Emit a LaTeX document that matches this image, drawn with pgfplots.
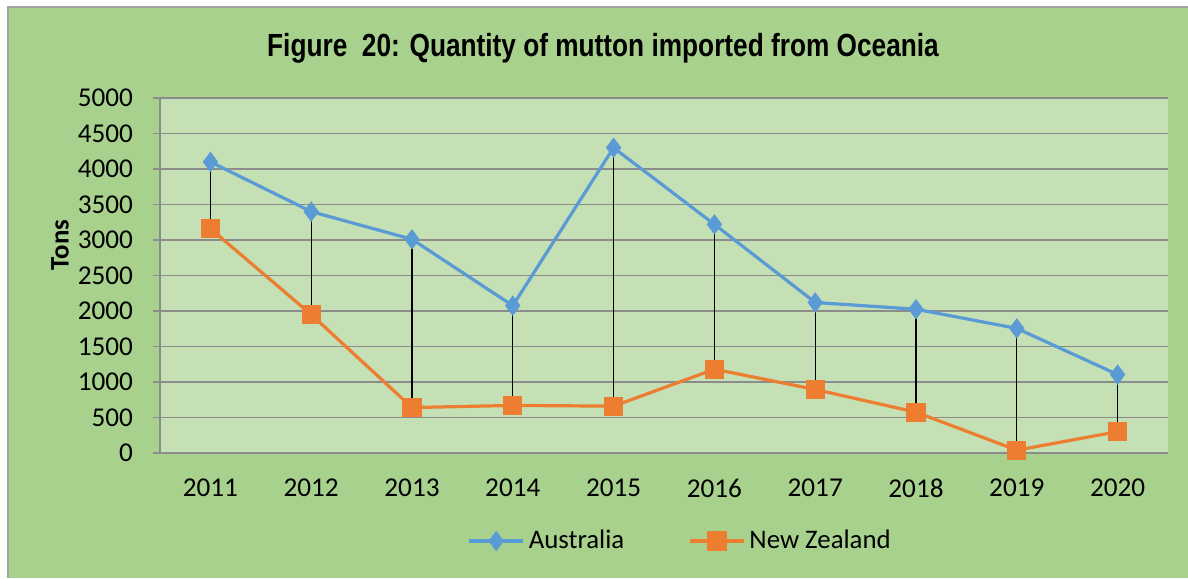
\documentclass[border=0pt]{standalone}
\usepackage{pgfplots}
\usepackage{pgfplotstable}
\pgfplotsset{compat=1.18}
\usepackage{fontspec}
\setmainfont{Carlito}
\newfontfamily\titlefont[FakeStretch=0.82]{Liberation Sans}
\definecolor{outergreen}{HTML}{A9D18E}
\definecolor{innergreen}{HTML}{C5E0B4}
\definecolor{ausblue}{HTML}{5B9BD5}
\definecolor{nzorange}{HTML}{ED7D31}
\definecolor{gridgray}{HTML}{8C8C8C}
\pgfplotstableread{
x aus nz
0 4100 3160
1 3400 1950
2 3010 640
3 2075 670
4 4300 660
5 3220 1180
6 2120 895
7 2025 575
8 1755 40
9 1105 300
}\datatable
\begin{document}
\begin{tikzpicture}
\useasboundingbox (-80pt,-62.5pt) rectangle (514pt,226.5pt);
\fill[outergreen] (-76pt,-62.5pt) rectangle (514pt,223pt);
\draw[gridgray!80, line width=0.6pt] (-76pt,-62.5pt) -- (-76pt,223pt) -- (514pt,223pt);
\begin{axis}[
  at={(0,0)}, anchor=south west,
  scale only axis, width=504pt, height=177.5pt,
  xmin=-0.5, xmax=9.5, ymin=0, ymax=5000,
  ytick={0,500,...,5000},
  xtick={0,...,9},
  xticklabels={2011,2012,2013,2014,2015,2016,2017,2018,2019,2020},
  axis background/.style={fill=innergreen},
  axis x line=bottom, axis y line=left,
  axis line style={gridgray, line width=0.75pt, -},
  ymajorgrids, grid style={gridgray, line width=0.75pt},
  major x tick style={draw=none},
  major y tick style={gridgray, line width=0.75pt},
  tick align=outside, major tick length=3.5pt,
  /pgf/number format/assume math mode=true,
  /pgf/number format/1000 sep={},
  tick label style={font=\fontsize{13.6}{15}\selectfont, black},
  yticklabel style={xshift=-6.5pt},
  xticklabel style={yshift=-6pt},
  legend columns=2,
  legend style={at={(0.517,-0.248)}, anchor=center, draw=none, fill=none,
    font=\fontsize{13.4}{15}\selectfont, /tikz/every even column/.append style={column sep=30pt}},
  legend image code/.code={
    \draw[#1, mark=none] (0pt,0pt) -- (27pt,0pt);
    \draw[#1, only marks] plot coordinates {(13.5pt,0pt)};
  },
  clip=false,
]
\addplot[ausblue, line width=1.6pt, mark=diamond*, mark size=3.8pt, mark options={solid, fill=ausblue, draw=ausblue}]
  table[x=x, y=aus] {\datatable};
\addlegendentry{Australia}
\addplot[nzorange, line width=1.6pt, mark=square*, mark size=4pt, mark options={solid, fill=nzorange, draw=nzorange}]
  table[x=x, y=nz] {\datatable};
\addlegendentry{New Zealand}
\addplot[draw=none, mark=none, forget plot,
  error bars/.cd, y dir=minus, y explicit, error mark=none,
  error bar style={black, line width=0.65pt}]
  table[x=x, y=aus, y error expr=\thisrow{aus}-\thisrow{nz}] {\datatable};
\end{axis}
\node[font=\titlefont\bfseries\fontsize{16}{19}\selectfont] at (221.5pt,202.5pt) {Figure\ \ 20: Quantity of mutton imported from Oceania};
\node[font=\bfseries\fontsize{13.4}{15}\selectfont, rotate=90] at (-50pt,104pt) {Tons};
\end{tikzpicture}
\end{document}
